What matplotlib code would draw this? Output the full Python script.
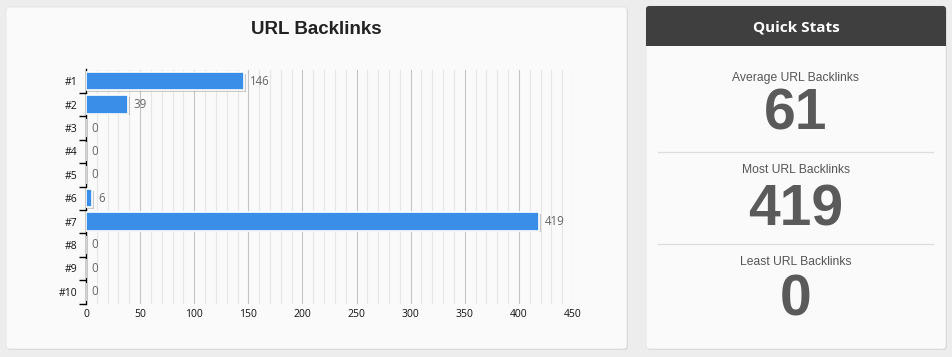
import matplotlib
matplotlib.use("Agg")
import matplotlib.pyplot as plt
from matplotlib.patches import FancyBboxPatch, Rectangle
import matplotlib.patheffects as pe
import numpy as np

categories = ["#1", "#2", "#3", "#4", "#5", "#6", "#7", "#8", "#9", "#10"]
values = [146, 39, 0, 0, 0, 6, 419, 0, 0, 0]
x_ticks = [0, 50, 100, 150, 200, 250, 300, 350, 400, 450]
stat_labels = ["Average URL Backlinks", "Most URL Backlinks", "Least URL Backlinks"]
stat_values = ["61", "419", "0"]

W, H = 953, 357
fig = plt.figure(figsize=(W / 100, H / 100), dpi=100)
fig.patch.set_facecolor("#ededed")

def fx(px):
    return px / W

def fy(py):
    return 1 - py / H

# background panels
bg = fig.add_axes([0, 0, 1, 1])
bg.set_xlim(0, W)
bg.set_ylim(H, 0)
bg.axis("off")
bg.set_zorder(-10)

for (x0, y0, x1, y1) in [(6, 7, 627, 349), (646, 6, 946, 349)]:
    sh = FancyBboxPatch((x0 + 1, y0 + 1), x1 - x0, y1 - y0,
                        boxstyle="round,pad=0,rounding_size=4",
                        fc="#d6d6d6", ec="none")
    bg.add_patch(sh)
    p = FancyBboxPatch((x0, y0), x1 - x0, y1 - y0,
                       boxstyle="round,pad=0,rounding_size=4",
                       fc="#fafafa", ec="#e4e4e4", lw=0.6)
    bg.add_patch(p)

# header of quick stats
hdr = FancyBboxPatch((646, 6), 300, 40, boxstyle="round,pad=0,rounding_size=3",
                     fc="#3f3f3f", ec="none")
bg.add_patch(hdr)
bg.add_patch(Rectangle((646, 30), 300, 16, fc="#3f3f3f", ec="none"))
bg.text(796, 27, "Quick Stats", color="white", fontsize=11, fontweight="bold",
        family="Open Sans", ha="center", va="center")

# separators
for yy in [152, 244]:
    bg.plot([658, 933], [yy, yy], color="#dcdcdc", lw=0.9)

label_base = [81, 173, 265]
value_base = [129, 226, 315]
for lab, val, ly, vy in zip(stat_labels, stat_values, label_base, value_base):
    bg.text(796, ly, lab, color="#555555", fontsize=8.7, family="Liberation Sans",
            ha="center", va="baseline")
    bg.text(796, vy, val, color="#5a5a5a", fontsize=41, fontweight="bold",
            family="Liberation Sans", ha="center", va="baseline")

# title
bg.text(316, 30, "URL Backlinks", color="#222222", fontsize=13.5, fontweight="bold",
        family="Liberation Sans", ha="center", va="center")

# chart axes
left, right, top, bottom = 86, 573, 69.5, 303.5
ax = fig.add_axes([fx(left), fy(bottom), fx(right - left), (bottom - top) / H])
ax.set_facecolor("none")
y = np.arange(len(categories))
bars = ax.barh(y, values, height=0.78, color="#3a8ee8", edgecolor="white", lw=1.2,
               zorder=3)
for b in bars:
    b.set_path_effects([pe.SimplePatchShadow(offset=(1.2, -1.2), shadow_rgbFace="#999999", alpha=0.5),
                        pe.Normal()])
for yi, v in zip(y, values):
    ax.annotate(str(v), xy=(v, yi), xytext=(4, 0), textcoords="offset points",
                color="#666666", fontsize=8.3, family="Open Sans",
                ha="left", va="center", zorder=4)

ax.set_xlim(0, 450)
ax.set_ylim(len(categories) - 0.5, -0.5)
ax.set_xticks(x_ticks)
ax.set_xticks(np.arange(0, 451, 10), minor=True)
ax.set_yticks(y)
ax.set_yticklabels(categories)
ax.set_yticks(np.arange(0.5, len(categories), 1.0), minor=True)
ax.grid(axis="x", which="major", color="#c4c4c4", lw=0.8, zorder=0)
ax.grid(axis="x", which="minor", color="#e6e6e6", lw=0.8, zorder=0)
ax.tick_params(axis="y", which="major", length=0, pad=6, labelsize=7.5, labelcolor="#111111")
ax.tick_params(axis="y", which="minor", length=5, width=1, color="black", direction="out")
ax.tick_params(axis="x", which="both", length=0, pad=4, labelsize=7.5, labelcolor="#111111")
for lab in ax.get_xticklabels() + ax.get_yticklabels():
    lab.set_family("Open Sans")
for s in ["top", "right", "bottom"]:
    ax.spines[s].set_visible(False)
ax.spines["left"].set_color("black")
ax.spines["left"].set_linewidth(1)

fig.savefig("out.png", dpi=100, facecolor=fig.get_facecolor())
